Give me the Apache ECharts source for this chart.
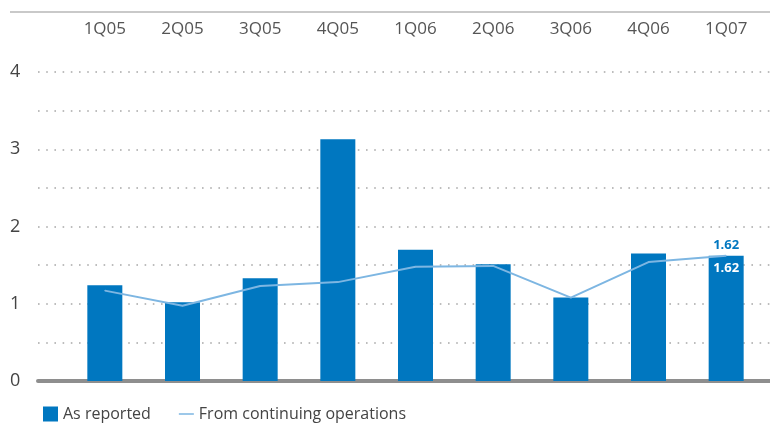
<!DOCTYPE html>
<html>
<head>
<meta charset="utf-8">
<script src="https://cdn.jsdelivr.net/npm/echarts@6/dist/echarts.min.js"></script>
<style>
  html, body { margin: 0; padding: 0; background: #fff; }
  #chart { width: 770px; height: 423px; }
</style>
</head>
<body>
<div id="chart"></div>
<script>
// Quarterly earnings per share
const quarters = ['1Q05', '2Q05', '3Q05', '4Q05', '1Q06', '2Q06', '3Q06', '4Q06', '1Q07'];
const asReported = [1.24, 1.02, 1.33, 3.13, 1.70, 1.51, 1.08, 1.65, 1.62];
const continuingOps = [1.17, 0.975, 1.23, 1.28, 1.48, 1.49, 1.08, 1.54, 1.62];
const yTicks = [0, 1, 2, 3, 4];

const BAR_BLUE = '#0077c0';
const LINE_BLUE = '#7db6e2';
const FONT = '"Open Sans", "Noto Sans", sans-serif';

const lastIdx = quarters.length - 1;

const chart = echarts.init(document.getElementById('chart'), null, { renderer: 'canvas' });

chart.setOption({
  animation: false,
  backgroundColor: '#ffffff',
  textStyle: { fontFamily: FONT },
  grid: [
    // frame grid: value labels, dotted guides, baseline
    { left: 38, right: 0, top: 72, bottom: 42 },
    // plotting grid for bars and line
    { left: 66, right: 5, top: 72, bottom: 42 }
  ],
  graphic: [
    {
      type: 'line',
      shape: { x1: 10, y1: 12, x2: 770, y2: 12 },
      style: { stroke: '#c9c9c9', lineWidth: 2 },
      silent: true
    }
  ],
  legend: {
    left: 38,
    top: 401,
    itemWidth: 15,
    itemHeight: 15,
    itemGap: 28,
    textStyle: { fontFamily: FONT, fontSize: 16, color: '#444' },
    data: [
      { name: 'As reported', icon: 'rect' },
      { name: 'From continuing operations', icon: 'path://M0,0 L20,0 L20,2 L0,2 Z' }
    ]
  },
  xAxis: [
    {
      gridIndex: 0,
      type: 'value',
      min: 0,
      max: 1,
      position: 'bottom',
      axisLine: { show: true, lineStyle: { color: '#8e8e8e', width: 4 } },
      axisTick: { show: false },
      axisLabel: { show: false },
      splitLine: { show: false }
    },
    {
      gridIndex: 1,
      type: 'category',
      data: quarters,
      position: 'top',
      axisLine: { show: false },
      axisTick: { show: false },
      axisLabel: {
        margin: 34,
        fontFamily: FONT,
        fontSize: 17,
        color: '#555'
      }
    }
  ],
  yAxis: [
    {
      gridIndex: 0,
      type: 'value',
      min: 0,
      max: 4,
      interval: 0.5,
      axisLine: { show: false },
      axisTick: { show: false },
      axisLabel: {
        align: 'left',
        margin: 28,
        fontFamily: FONT,
        fontSize: 18,
        color: '#444',
        formatter: v => (yTicks.indexOf(v) >= 0 ? String(v) : '')
      },
      splitLine: {
        show: true,
        lineStyle: { color: '#a8a8a8', width: 1.6, type: [1.6, 6.6] }
      }
    },
    {
      gridIndex: 1,
      type: 'value',
      min: 0,
      max: 4,
      interval: 0.5,
      axisLine: { show: false },
      axisTick: { show: false },
      axisLabel: { show: false },
      splitLine: { show: false }
    }
  ],
  series: [
    {
      name: 'As reported',
      type: 'bar',
      xAxisIndex: 1,
      yAxisIndex: 1,
      barWidth: 35,
      itemStyle: { color: BAR_BLUE },
      data: asReported.map((v, i) => ({
        value: v,
        label: {
          show: i === lastIdx,
          position: 'insideTop',
          distance: 6,
          formatter: p => p.value.toFixed(2),
          color: '#ffffff',
          fontWeight: 'bold',
          fontSize: 13,
          fontFamily: FONT
        }
      })),
      z: 2
    },
    {
      name: 'From continuing operations',
      type: 'line',
      xAxisIndex: 1,
      yAxisIndex: 1,
      symbol: 'circle',
      symbolSize: 1,
      showSymbol: true,
      lineStyle: { color: LINE_BLUE, width: 2 },
      itemStyle: { color: LINE_BLUE },
      data: continuingOps.map((v, i) => ({
        value: v,
        label: {
          show: i === lastIdx,
          position: 'top',
          distance: 4,
          formatter: p => p.value.toFixed(2),
          color: BAR_BLUE,
          fontWeight: 'bold',
          fontSize: 13,
          fontFamily: FONT
        }
      })),
      z: 3
    }
  ]
});
</script>
</body>
</html>
